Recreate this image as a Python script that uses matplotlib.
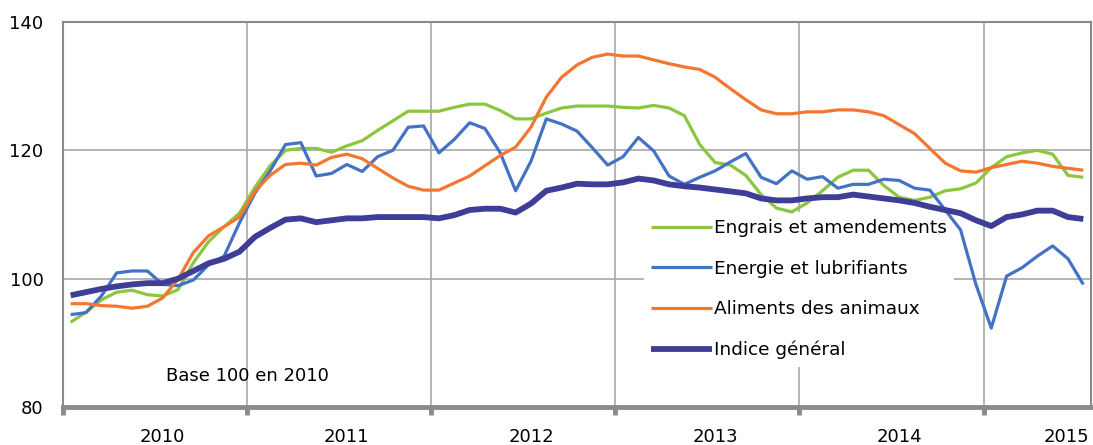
import matplotlib
matplotlib.use("Agg")
import matplotlib.pyplot as plt
import matplotlib.transforms as mtransforms
import numpy as np

# Indices mensuels, janvier 2010 -> juillet 2015 (base 100 en 2010)
annees = ['2010', '2011', '2012', '2013', '2014', '2015']
pos_annees = [6.5, 18.5, 30.5, 42.5, 54.5, 65.4]

engrais = [93.2, 94.8, 96.7, 97.9, 98.2, 97.5, 97.3, 98.3, 102.5, 105.8, 108.1, 110.2,
           114.2, 117.6, 120.0, 120.3, 120.3, 119.7, 120.7, 121.5, 123.1, 124.6, 126.1, 126.1,
           126.1, 126.7, 127.2, 127.2, 126.2, 124.9, 124.9, 125.8, 126.6, 126.9, 126.9, 126.9,
           126.7, 126.6, 127.0, 126.6, 125.4, 120.9, 118.1, 117.7, 116.1, 113.1, 111.0, 110.4,
           111.8, 113.7, 115.8, 116.9, 116.9, 114.5, 112.7, 112.2, 112.7, 113.7, 114.0, 114.9,
           117.3, 119.0, 119.6, 120.0, 119.4, 116.1, 115.8]

energie = [94.4, 94.7, 97.3, 100.9, 101.2, 101.2, 99.1, 98.9, 99.8, 102.2, 103.5, 108.7,
           113.3, 116.8, 120.9, 121.2, 116.0, 116.4, 117.8, 116.7, 119.0, 120.0, 123.6, 123.8,
           119.6, 121.7, 124.3, 123.4, 119.6, 113.7, 118.3, 124.9, 124.1, 123.0, 120.4, 117.7,
           119.0, 122.0, 119.9, 116.0, 114.7, 115.8, 116.8, 118.2, 119.5, 115.8, 114.8, 116.8,
           115.5, 115.9, 114.1, 114.7, 114.7, 115.5, 115.3, 114.1, 113.8, 110.7, 107.6, 99.1,
           92.3, 100.4, 101.7, 103.5, 105.1, 103.1, 99.1]

aliments = [96.1, 96.1, 95.8, 95.7, 95.4, 95.7, 97.0, 99.9, 104.1, 106.7, 108.1, 109.6,
            113.6, 116.1, 117.8, 118.0, 117.7, 118.9, 119.4, 118.7, 117.2, 115.7, 114.4, 113.8,
            113.8, 114.9, 116.0, 117.6, 119.2, 120.5, 123.6, 128.3, 131.4, 133.3, 134.5, 135.0,
            134.7, 134.7, 134.1, 133.5, 133.0, 132.6, 131.4, 129.6, 127.9, 126.3, 125.7, 125.7,
            126.0, 126.0, 126.3, 126.3, 126.0, 125.4, 124.0, 122.6, 120.3, 118.0, 116.8, 116.6,
            117.3, 117.8, 118.3, 118.0, 117.5, 117.2, 116.9]

indice = [97.4, 97.9, 98.4, 98.8, 99.1, 99.3, 99.3, 100.0, 101.2, 102.4, 103.1, 104.2,
          106.5, 107.9, 109.2, 109.4, 108.8, 109.1, 109.4, 109.4, 109.6, 109.6, 109.6, 109.6,
          109.4, 109.9, 110.7, 110.9, 110.9, 110.3, 111.7, 113.7, 114.2, 114.8, 114.7, 114.7,
          115.0, 115.6, 115.3, 114.7, 114.4, 114.2, 113.9, 113.6, 113.3, 112.5, 112.2, 112.2,
          112.5, 112.7, 112.7, 113.1, 112.8, 112.5, 112.2, 111.8, 111.2, 110.7, 110.2, 109.1,
          108.2, 109.6, 110.0, 110.6, 110.6, 109.6, 109.3]

mois = np.arange(len(indice)) + 0.5

plt.rcParams['font.family'] = 'DejaVu Sans'

fig = plt.figure(figsize=(10.93, 4.45), dpi=100)
ax = fig.add_axes([63 / 1093, 38 / 445, 1028 / 1093, 385 / 445])

gris = '#8a8a8a'
kw = dict(solid_joinstyle='round', solid_capstyle='butt', zorder=3)
ax.plot(mois, engrais, color='#8cc63f', lw=2.3, label='Engrais et amendements', **kw)
ax.plot(mois, energie, color='#4472c4', lw=2.3, label='Energie et lubrifiants', **kw)
ax.plot(mois, aliments, color='#f47630', lw=2.3, label='Aliments des animaux', **kw)
ax.plot(mois, indice, color='#3e3d98', lw=4.2, label='Indice général', **kw)

ax.set_xlim(0, 67)
ax.set_ylim(80, 140)
ax.set_yticks([80, 100, 120, 140])
ax.set_xticks([0, 12, 24, 36, 48, 60])
ax.set_xticklabels([])
ax.tick_params(axis='y', length=0, pad=14, labelsize=13)
ax.tick_params(axis='x', length=6, width=3.5, color=gris, direction='out')

ax.grid(True, color='#a8a8a8', lw=1.2, zorder=0)
ax.set_axisbelow(True)
for s in ['top', 'right', 'left']:
    ax.spines[s].set_color(gris)
    ax.spines[s].set_linewidth(1.5)
ax.spines['bottom'].set_color(gris)
ax.spines['bottom'].set_linewidth(3.5)

trans = mtransforms.blended_transform_factory(ax.transData, ax.transAxes)
for a, p in zip(annees, pos_annees):
    ax.text(p, -0.078, a, transform=trans, ha='center', va='center', fontsize=13)

ax.text(6.7, 84.8, 'Base 100 en 2010', fontsize=13, ha='left', va='center')

leg = ax.legend(loc='upper left', bbox_to_anchor=(644 / 1093, 1 - 212 / 445),
                bbox_transform=fig.transFigure, fontsize=13.3, frameon=True,
                facecolor='white', edgecolor='none', framealpha=1, fancybox=False,
                handlelength=3.3, handletextpad=0.1, labelspacing=1.22, borderpad=0.4,
                borderaxespad=0)
leg.set_zorder(2.5)

fig.savefig('out.png', dpi=100)
